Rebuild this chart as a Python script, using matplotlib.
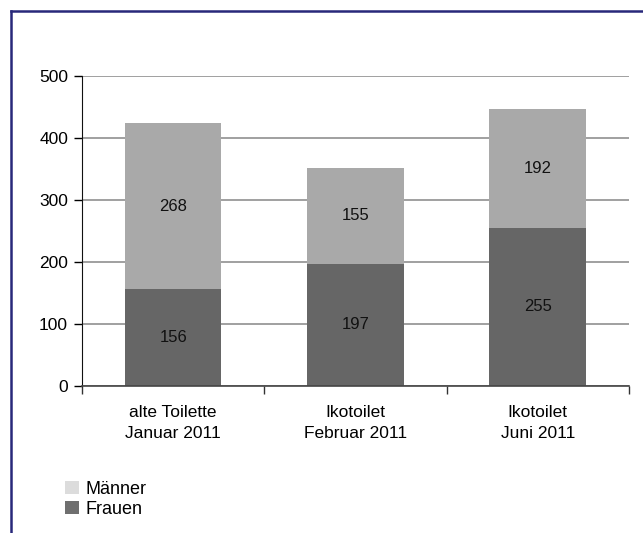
import matplotlib.pyplot as plt
from matplotlib.lines import Line2D
from matplotlib.patches import Patch
import numpy as np

plt.rcParams['font.family'] = ['Liberation Sans', 'DejaVu Sans']

# Daten
categories = ["alte Toilette\nJanuar 2011", "Ikotoilet\nFebruar 2011", "Ikotoilet\nJuni 2011"]
frauen = [156, 197, 255]
maenner = [268, 155, 192]

fig = plt.figure(figsize=(6.43, 5.33), dpi=100)
ax = fig.add_axes([0.1275, 0.2758, 0.978 - 0.1275, 0.8574 - 0.2758])

x = np.arange(len(categories))
w = 0.53

ax.bar(x, frauen, w, color="#666666", zorder=2)
ax.bar(x, maenner, w, bottom=frauen, color="#a9a9a9", zorder=2)

# Werte in die Balken
for i in range(len(categories)):
    ax.text(x[i], frauen[i] / 2, str(frauen[i]), ha="center", va="center", fontsize=12, color="#111111", zorder=3)
    ax.text(x[i], frauen[i] + maenner[i] / 2, str(maenner[i]), ha="center", va="center", fontsize=12,
            color="#111111", zorder=3)

ax.set_xlim(-0.5, 2.5)
ax.set_ylim(0, 500)
ax.set_yticks(range(0, 501, 100))
ax.yaxis.grid(True, color="#999999", linewidth=1.3, zorder=0)
ax.set_axisbelow(True)

ax.set_xticks(x)
ax.set_xticklabels(categories, fontsize=12.5, linespacing=1.45)
ax.tick_params(axis="x", length=0, pad=14)
ax.set_xticks([-0.5, 0.5, 1.5, 2.5], minor=True)
ax.tick_params(axis="x", which="minor", length=6, width=1, color="#333333", direction="out")
ax.tick_params(axis="y", labelsize=12.5, length=6, width=1, direction="out", pad=4)

for s in ["top", "right"]:
    ax.spines[s].set_visible(False)
ax.spines["left"].set_color("#111111")
ax.spines["bottom"].set_color("#444444")
ax.spines["bottom"].set_linewidth(1.2)

# Legende
handles = [Patch(facecolor="#dcdcdc", label="Männer"), Patch(facecolor="#6f6f6f", label="Frauen")]
fig.legend(handles=handles, loc="upper left", bbox_to_anchor=(0.09, 0.112), frameon=False, fontsize=13,
           handlelength=0.75, handleheight=0.75, handletextpad=0.4, labelspacing=0.2, borderaxespad=0)

# Rahmen
col = "#28287a"
fig.add_artist(Line2D([11 / 643, 11 / 643], [0, 1 - 11 / 533], color=col, linewidth=1.8,
                      transform=fig.transFigure))
fig.add_artist(Line2D([11 / 643, 1], [1 - 11 / 533, 1 - 11 / 533], color=col, linewidth=1.8,
                      transform=fig.transFigure))

plt.savefig("out.png", dpi=100)
